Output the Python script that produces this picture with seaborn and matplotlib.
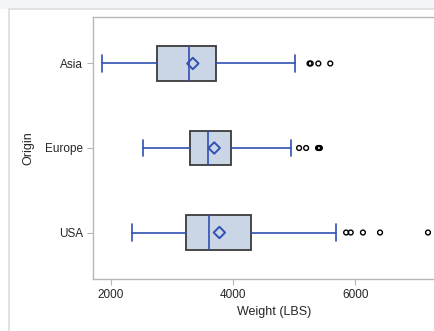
import matplotlib
matplotlib.use("Agg")
import matplotlib.pyplot as plt
import seaborn as sns
import pandas as pd
from matplotlib.patches import Rectangle

# ---- data ----
origins = ["Asia", "Europe", "USA"]
whisker_low = [1850, 2530, 2340]
q1 = [2750, 3295, 3220]
median = [3280, 3595, 3612]
q3 = [3725, 3967, 4290]
whisker_high = [5010, 4955, 5690]
means = [3340, 3690, 3775]
outliers_asia = [5250, 5270, 5395, 5590]
outliers_europe = [5080, 5195, 5390, 5405, 5420]
outliers_usa = [5850, 5925, 6125, 6405, 7190]
x_ticks = [2000, 4000, 6000]

BLUE = "#2F52B2"
FILL = "#CAD5E5"
EDGE = "#3A3A3A"
AXC = "#B4B8BC"
TXT = "#262626"

sns.set_theme(style="white")
plt.rcParams["font.family"] = ["Liberation Sans", "DejaVu Sans"]

fig = plt.figure(figsize=(4.34, 3.31), dpi=100)
W, H = 434, 331
# outer frame like the reference crop
fig.patches.append(Rectangle((0, 1 - 8.5 / H), 1, 8.5 / H, transform=fig.transFigure,
                             facecolor="#F4F5F8", edgecolor="none", zorder=-10))
fig.patches.append(Rectangle((8.5 / W, -0.1), 1.2, 1 - 8.5 / H + 0.1,
                             transform=fig.transFigure, facecolor="white",
                             edgecolor="#DCDDE0", linewidth=1.2, zorder=-9))

ax = fig.add_axes([93 / W, 1 - 279 / H, 363 / W, (279 - 17) / H])

stats = []
for i, name in enumerate(origins):
    stats.append(dict(label=name, whislo=whisker_low[i], q1=q1[i], med=median[i],
                      q3=q3[i], whishi=whisker_high[i], mean=means[i], fliers=[]))
ax.bxp(stats, positions=[0, 1, 2], widths=0.41, orientation="horizontal",
       patch_artist=True, showmeans=False, showfliers=False, capwidths=0.2,
       boxprops=dict(facecolor=FILL, edgecolor=EDGE, linewidth=1.3),
       medianprops=dict(color=BLUE, linewidth=1.2),
       whiskerprops=dict(color=BLUE, linewidth=1.2),
       capprops=dict(color=BLUE, linewidth=1.2))

mean_df = pd.DataFrame({"Weight": means, "pos": [0, 1, 2]})
sns.scatterplot(data=mean_df, x="Weight", y="pos", marker="D", s=34,
                facecolor="none", edgecolor=BLUE, linewidth=1.4, ax=ax, zorder=5)

out_vals = outliers_asia + outliers_europe + outliers_usa
out_pos = [0] * len(outliers_asia) + [1] * len(outliers_europe) + [2] * len(outliers_usa)
out_df = pd.DataFrame({"Weight": out_vals, "pos": out_pos})
sns.scatterplot(data=out_df, x="Weight", y="pos", marker="o", s=12,
                facecolor="none", edgecolor="black", linewidth=1.0, ax=ax, zorder=5)

px_per = (355.3 - 111.0) / 4000.0
ax.set_xlim(2000 - (111 - 93) / px_per, 2000 + (456 - 111) / px_per)
ax.set_ylim(2.55, -0.55)
ax.set_xticks(x_ticks)
ax.set_xticklabels([str(v) for v in x_ticks])
ax.set_yticks([0, 1, 2])
ax.set_yticklabels(origins)
ax.set_xlabel("Weight (LBS)", fontsize=9, color=TXT, labelpad=4)
ax.set_ylabel("Origin", fontsize=9, color=TXT, labelpad=8)
ax.tick_params(axis="both", labelsize=8.5, colors=TXT, length=4, width=0.8,
               color=AXC, direction="out", bottom=True, left=True, pad=3)
for s in ax.spines.values():
    s.set_color(AXC)
    s.set_linewidth(1.0)
ax.set_facecolor("white")
ax.grid(False)

fig.savefig("out.png", dpi=100)
